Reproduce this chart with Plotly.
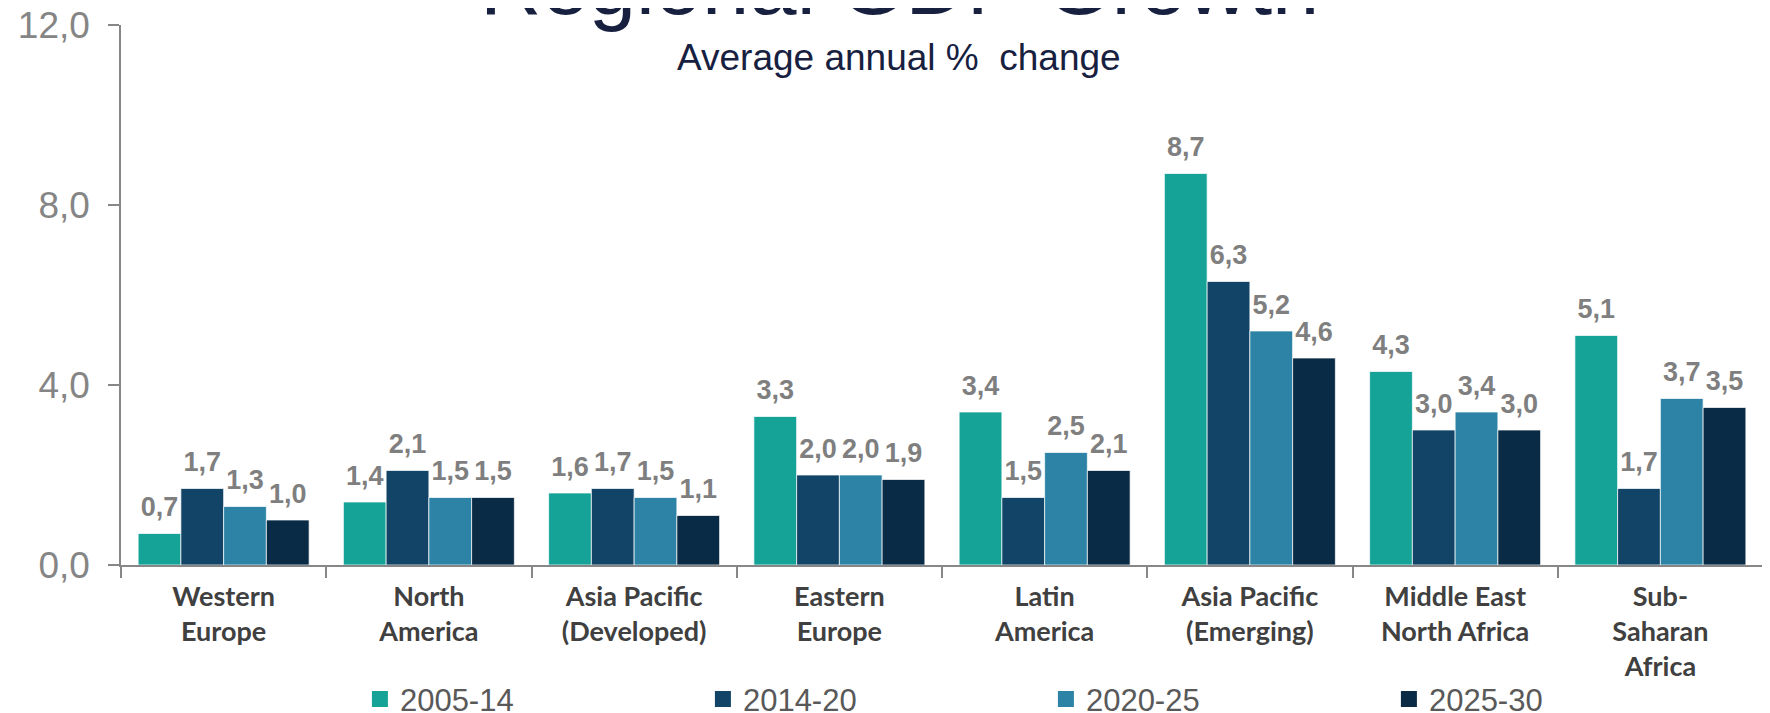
import plotly.graph_objects as go

categories = ["Western<br>Europe", "North<br>America", "Asia Pacific<br>(Developed)",
              "Eastern<br>Europe", "Latin<br>America", "Asia Pacific<br>(Emerging)",
              "Middle East<br>North Africa", "Sub-<br>Saharan<br>Africa"]
series_names = ["2005-14", "2014-20", "2020-25", "2025-30"]
v_2005_14 = [0.7, 1.4, 1.6, 3.3, 3.4, 8.7, 4.3, 5.1]
v_2014_20 = [1.7, 2.1, 1.7, 2.0, 1.5, 6.3, 3.0, 1.7]
v_2020_25 = [1.3, 1.5, 1.5, 2.0, 2.5, 5.2, 3.4, 3.7]
v_2025_30 = [1.0, 1.5, 1.1, 1.9, 2.1, 4.6, 3.0, 3.5]
series_values = [v_2005_14, v_2014_20, v_2020_25, v_2025_30]
colors = ["#15A398", "#114466", "#2C83A5", "#0A2B45"]

# page has an 8px body margin, so the figure is sized to fit the window
W, H = 1762, 705
ML, MR, MT, MB = 113, 7, 17, 148

fig = go.Figure()
for name, vals, col in zip(series_names, series_values, colors):
    fig.add_trace(go.Bar(
        x=categories, y=vals, name=name, showlegend=False,
        marker=dict(color=col, line=dict(color="rgba(255,255,255,0.7)", width=1)),
        hoverinfo="skip",
    ))
for name, vals in zip(series_names, series_values):
    fig.add_trace(go.Scatter(
        x=categories, y=vals, mode="markers+text",
        marker=dict(size=15, color="rgba(0,0,0,0)"),
        texttemplate="%{y:.1f}", textposition="top center",
        textfont=dict(family="Liberation Sans, Arial", size=27, color="#7F7F7F", weight="bold"),
        showlegend=False, hoverinfo="skip", cliponaxis=False,
    ))
# legend entries (square swatches), on a hidden overlaid axis so they do not join the grouping
for name, col in zip(series_names, colors):
    fig.add_trace(go.Scatter(
        x=[None], y=[None], mode="markers", name=name, xaxis="x2",
        marker=dict(symbol="square", size=16, color=col),
        showlegend=True, hoverinfo="skip",
    ))

fig.update_layout(
    width=W, height=H,
    margin=dict(l=ML, r=MR, t=MT, b=MB, autoexpand=False),
    paper_bgcolor="white", plot_bgcolor="white",
    barmode="group", bargap=0.167, bargroupgap=0,
    scattermode="group",
    separators=",.",
    font=dict(family="Liberation Sans, Arial"),
    showlegend=True,
    xaxis=dict(
        type="category", showline=True, linecolor="#878787", linewidth=1.5,
        ticks="outside", tickson="boundaries", ticklen=11, tickcolor="#878787", tickwidth=1.5,
        tickfont=dict(family="Lato, Open Sans", size=27, color="#404040", weight="bold"),
        ticklabelstandoff=7, ticklabeloverflow="allow",
        showgrid=False, zeroline=False, automargin=False,
    ),
    xaxis2=dict(overlaying="x", visible=False),
    yaxis=dict(
        range=[0, 12], tickvals=[0, 4, 8, 12], tickformat=".1f",
        showline=True, linecolor="#878787", linewidth=1.5,
        ticks="outside", ticklen=11, tickcolor="#878787", tickwidth=1.5,
        tickfont=dict(size=37, color="#858585", family="Liberation Sans, Arial"),
        ticklabelstandoff=11, ticklabeloverflow="allow",
        showgrid=False, zeroline=False, automargin=False,
    ),
    legend=dict(orientation="h", x=0.1455, xanchor="left", y=-0.199, yanchor="top",
                entrywidth=298, entrywidthmode="pixels", itemsizing="trace",
                bgcolor="rgba(0,0,0,0)",
                font=dict(size=31, color="#595959", family="Liberation Sans, Arial"),
                traceorder="normal"),
    annotations=[
        dict(text="Regional GDP Growth", xref="paper", yref="paper", x=0.474, y=0.984,
             xanchor="center", yanchor="bottom", showarrow=False,
             font=dict(size=85, color="#17203F", family="Liberation Sans, Arial")),
        dict(text="Average annual %  change", xref="paper", yref="paper", x=0.474, y=0.898,
             xanchor="center", yanchor="bottom", showarrow=False,
             font=dict(size=37, color="#17203F", family="Liberation Sans, Arial")),
    ],
)
fig.write_html("out.html")
